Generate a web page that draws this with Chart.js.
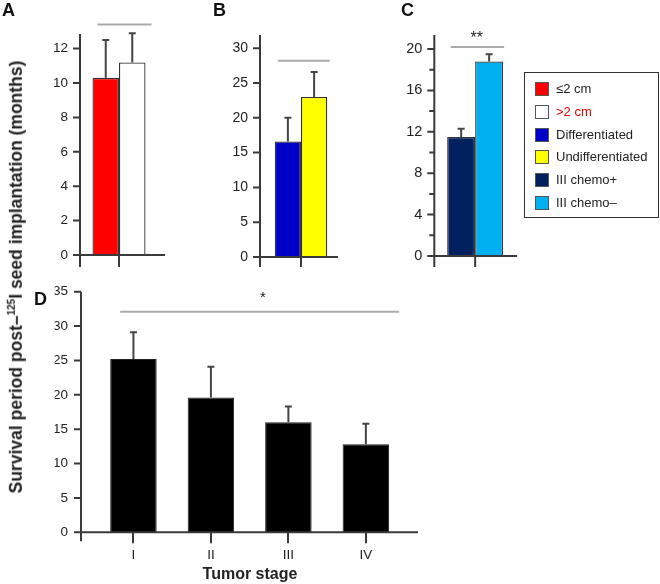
<!DOCTYPE html>
<html>
<head>
<meta charset="utf-8">
<script src="https://cdn.jsdelivr.net/npm/chart.js"></script>
<style>
  body { margin: 0; background: #fff; }
  #wrap { position: relative; width: 660px; height: 584px; overflow: hidden;
          font-family: "Liberation Sans", Arial, sans-serif; color: #222; }
  canvas { position: absolute; left: 0; top: 0; }
  .t { position: absolute; line-height: 1; white-space: nowrap; }
  .letter { font-weight: bold; font-size: 18px; color: #111; }
  #legend { position: absolute; left: 524px; top: 72px; width: 135px; height: 146px;
            box-sizing: border-box; border: 1px solid #333; }
  .row { position: absolute; left: 10px; height: 14px; font-size: 13px; line-height: 14px; }
  .sw { display: inline-block; width: 14px; height: 14px; box-sizing: border-box;
        border: 1px solid #555; vertical-align: top; margin-right: 7px; }
</style>
</head>
<body>
<div id="wrap">
  <canvas id="cA" width="660" height="584"></canvas>
  <canvas id="cB" width="660" height="584"></canvas>
  <canvas id="cC" width="660" height="584"></canvas>
  <canvas id="cD" width="660" height="584"></canvas>

  <div class="t letter" style="left:2px;top:1px">A</div>
  <div class="t letter" style="left:213px;top:1px">B</div>
  <div class="t letter" style="left:401px;top:1px">C</div>
  <div class="t letter" style="left:34px;top:290px">D</div>

  <div class="t" style="left:476.7px;top:29.5px;font-size:16px;transform:translateX(-50%)">**</div>
  <div class="t" style="left:263px;top:289px;font-size:15px;transform:translateX(-50%)">*</div>

  <div class="t" style="left:16px;top:277px;font-size:17.5px;font-weight:bold;transform:translate(-50%,-50%) rotate(-90deg)">Survival period post–<sup style="font-size:10px">125</sup>I seed implantation (months)</div>
  <div class="t" style="left:250px;top:565.6px;font-size:16px;font-weight:bold;transform:translateX(-50%)">Tumor stage</div>

  <div id="legend"></div>
</div>

<script>
// Panel A: tumour size
const sizeLabels = ['≤2 cm', '>2 cm'];
const sizeMeans = [10.3, 11.2];
const sizeSD = [2.2, 1.7];
const sizeColors = ['#ff0000', '#ffffff'];
const ticksA = [0, 2, 4, 6, 8, 10, 12];
const sigA = 13.4;

// Panel B: differentiation
const diffLabels = ['Differentiated', 'Undifferentiated'];
const diffMeans = [16.6, 23.0];
const diffSD = [3.4, 3.6];
const diffColors = ['#0000c8', '#ffff00'];
const ticksB = [0, 5, 10, 15, 20, 25, 30];
const sigB = 28.2;

// Panel C: stage III with / without chemo
const chemoLabels = ['III chemo+', 'III chemo–'];
const chemoMeans = [11.5, 18.8];
const chemoSD = [0.8, 0.7];
const chemoColors = ['#002060', '#00b0f0'];
const ticksC = [0, 4, 8, 12, 16, 20];
const minorC = [2, 6, 10, 14, 18];
const sigC = 20.2;

// Panel D: tumour stage
const stageLabels = ['I', 'II', 'III', 'IV'];
const stageMeans = [25.2, 19.6, 16.0, 12.8];
const stageSD = [3.9, 4.5, 2.3, 3.0];
const ticksD = [0, 5, 10, 15, 20, 25, 30, 35];
const sigD = 32.1;

const FONT = '"Liberation Sans", Arial, sans-serif';

// legend built from the group arrays
const legendRows = [
    [sizeLabels[0], sizeColors[0], '#222'],
    [sizeLabels[1], sizeColors[1], '#e00000'],
    [diffLabels[0], diffColors[0], '#222'],
    [diffLabels[1], diffColors[1], '#222'],
    [chemoLabels[0], chemoColors[0], '#222'],
    [chemoLabels[1], chemoColors[1], '#222'],
];
const legendEl = document.getElementById('legend');
legendRows.forEach((r, i) => {
    const row = document.createElement('div');
    row.className = 'row';
    row.style.top = (9 + i * 22.8) + 'px';
    row.innerHTML = '<span class="sw" style="background:' + r[1] + '"></span><span style="color:' + r[2] + '">' + r[0] + '</span>';
    legendEl.appendChild(row);
});

// error bars, axis lines, ticks and significance bars
const panelPlugin = {
    id: 'panel',
    afterDatasetsDraw(chart, args, o) {
        const { ctx, chartArea: a, scales: { x, y } } = chart;
        ctx.save();
        ctx.lineCap = 'butt';

        let bars = [];
        chart.data.datasets.forEach((ds, i) => {
            chart.getDatasetMeta(i).data.forEach((bar, j) => {
                bars.push(bar);
                const top = y.getPixelForValue(ds.data[j] + ds.sd[j]);
                ctx.strokeStyle = '#444';
                ctx.lineWidth = 2;
                ctx.beginPath();
                ctx.moveTo(bar.x, bar.y);
                ctx.lineTo(bar.x, top);
                ctx.moveTo(bar.x - 3.5, top);
                ctx.lineTo(bar.x + 3.5, top);
                ctx.stroke();
            });
        });

        const ax = a.left - o.gap;
        ctx.strokeStyle = '#3a3a3a';
        ctx.lineWidth = 2;
        ctx.beginPath();
        ctx.moveTo(ax, a.top);
        ctx.lineTo(ax, a.bottom + o.below);
        ctx.moveTo(ax - 5, a.bottom);
        ctx.lineTo(o.xEnd, a.bottom);
        y.ticks.forEach(t => {
            const p = y.getPixelForValue(t.value);
            ctx.moveTo(ax - 7, p);
            ctx.lineTo(ax, p);
        });
        (o.minor || []).forEach(v => {
            const p = y.getPixelForValue(v);
            ctx.moveTo(ax - 5, p);
            ctx.lineTo(ax, p);
        });
        if (o.centerTick) {
            const cx = x.getPixelForValue(0);
            ctx.moveTo(cx, a.bottom);
            ctx.lineTo(cx, a.bottom + o.below);
        }
        ctx.stroke();

        bars.sort((p, q) => p.x - q.x);
        const first = bars[0], last = bars[bars.length - 1];
        const sy = y.getPixelForValue(o.sig);
        ctx.strokeStyle = '#ababab';
        ctx.lineWidth = 2;
        ctx.beginPath();
        ctx.moveTo(first.x - first.width / 2 + o.sigL, sy);
        ctx.lineTo(last.x + last.width / 2 + o.sigR, sy);
        ctx.stroke();
        ctx.restore();
    }
};

function yScale(max, ticks, fontSize, padding) {
    return {
        min: 0,
        max: max,
        afterBuildTicks: s => { s.ticks = ticks.map(v => ({ value: v })); },
        afterFit: s => { s.width = 40; },
        grid: { display: false, drawTicks: false },
        border: { display: false },
        ticks: { padding: padding, color: '#222', font: { family: FONT, size: fontSize } }
    };
}

function pairChart(id, labels, means, sds, colors, opts) {
    return new Chart(document.getElementById(id), {
        type: 'bar',
        data: {
            labels: [''],
            datasets: labels.map((l, i) => ({
                label: l,
                data: [means[i]],
                sd: [sds[i]],
                backgroundColor: colors[i],
                borderColor: '#333',
                borderWidth: 1.3,
                categoryPercentage: opts.pct,
                barPercentage: 1
            }))
        },
        options: {
            responsive: false,
            animation: false,
            layout: { padding: opts.padding },
            plugins: { legend: { display: false }, tooltip: { enabled: false }, panel: opts.panel },
            scales: {
                x: { display: false },
                y: yScale(opts.max, opts.ticks, opts.fontSize, 12)
            }
        },
        plugins: [panelPlugin]
    });
}

pairChart('cA', sizeLabels, sizeMeans, sizeSD, sizeColors, {
    pct: 0.68, max: 12.85, ticks: ticksA, fontSize: 13.5,
    padding: { left: 40, right: 502, top: 34, bottom: 329 },
    panel: { gap: 0, below: 12, xEnd: 165, centerTick: true, sig: sigA, sigL: 5, sigR: 6 }
});

pairChart('cB', diffLabels, diffMeans, diffSD, diffColors, {
    pct: 0.64, max: 31.9, ticks: ticksB, fontSize: 14,
    padding: { left: 220, right: 318, top: 35, bottom: 327 },
    panel: { gap: 0, below: 10, xEnd: 338, centerTick: true, sig: sigB, sigL: 3, sigR: 2.5 }
});

pairChart('cC', chemoLabels, chemoMeans, chemoSD, chemoColors, {
    pct: 0.685, max: 21.35, ticks: ticksC, fontSize: 14.5,
    padding: { left: 394.3, right: 144, top: 35, bottom: 328 },
    panel: { gap: 0, below: 11, xEnd: 517, centerTick: true, minor: minorC, sig: sigC, sigL: 3.5, sigR: 1 }
});

new Chart(document.getElementById('cD'), {
    type: 'bar',
    data: {
        labels: stageLabels,
        datasets: [{
            label: 'Tumor stage',
            data: stageMeans,
            sd: stageSD,
            backgroundColor: '#000',
            borderColor: '#222',
            borderWidth: 1,
            categoryPercentage: 0.6,
            barPercentage: 1
        }]
    },
    options: {
        responsive: false,
        animation: false,
        layout: { padding: { left: 54.7, right: 255.4, top: 291.7, bottom: 11.7 } },
        plugins: { legend: { display: false }, tooltip: { enabled: false },
                   panel: { gap: 13.7, below: 9, xEnd: 418, centerTick: false, sig: sigD, sigL: 10, sigR: 10 } },
        scales: {
            x: {
                afterFit: s => { s.height = 40; },
                grid: { display: true, drawOnChartArea: false, drawTicks: true, tickLength: 11,
                        offset: false, color: '#3a3a3a', lineWidth: 2 },
                border: { display: false },
                ticks: { padding: 4, maxRotation: 0, color: '#222', font: { family: FONT, size: 13.5 } }
            },
            y: yScale(35, ticksD, 13.5, 26.7)
        }
    },
    plugins: [panelPlugin]
});
</script>
</body>
</html>
